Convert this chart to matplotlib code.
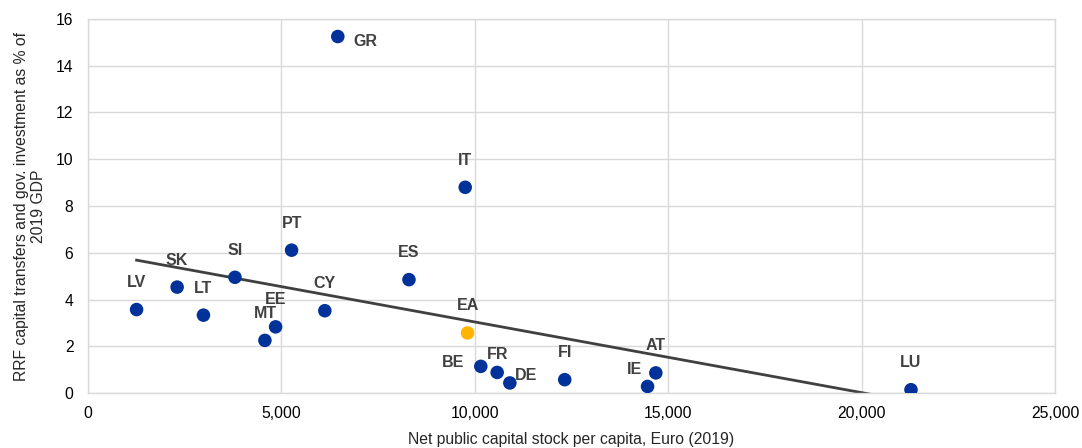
import matplotlib
matplotlib.use("Agg")
import matplotlib.pyplot as plt
import numpy as np

countries = ["LV", "SK", "LT", "SI", "MT", "EE", "PT", "CY", "GR", "ES",
             "IT", "EA", "BE", "FR", "DE", "FI", "IE", "AT", "LU"]
capital_stock = [1256, 2304, 2985, 3800, 4574, 4850, 5263, 6123, 6458, 8298,
                 9752, 9812, 10155, 10578, 10906, 12325, 14466, 14680, 21277]
rrf_share = [3.57, 4.53, 3.33, 4.95, 2.25, 2.83, 6.11, 3.52, 15.25, 4.85,
             8.80, 2.57, 1.14, 0.88, 0.43, 0.57, 0.28, 0.86, 0.14]
x_ticks = [0, 5000, 10000, 15000, 20000, 25000]
y_ticks = [0, 2, 4, 6, 8, 10, 12, 14, 16]

# label offsets in pixels (layout only)
offsets = {"GR": (28, -5), "BE": (-28, 4), "FR": (0, 18), "DE": (16, 7),
           "IE": (-13, 17)}
default_offset = (0, 27)

plt.rcParams["font.family"] = ["Liberation Sans", "DejaVu Sans"]

fig = plt.figure(figsize=(10.82, 4.48), dpi=100)
ax = fig.add_axes([88/1082, 1-393/448, (1055-88)/1082, (393-19)/448])

x = np.array(capital_stock, dtype=float)
y = np.array(rrf_share, dtype=float)
is_ea = np.array([c == "EA" for c in countries])

# trend line (linear fit over all points)
coef = np.polyfit(x, y, 1)
xs = np.linspace(x.min(), x.max(), 200)
ys = np.polyval(coef, xs)
ax.plot(xs, ys, color="#404040", lw=2, zorder=2, clip_on=True)

colors = ["#FFB400" if e else "#003299" for e in is_ea]
ax.scatter(x, y, s=95, c=colors, zorder=3, linewidths=0)

for c, xi, yi in zip(countries, x, y):
    dx, dy = offsets.get(c, default_offset)
    ax.annotate(c, (xi, yi), xytext=(dx * 0.72, dy * 0.72), textcoords="offset points",
                ha="center", va="center", fontsize=11.5, fontweight="bold",
                color="#404040", zorder=4)

ax.set_xlim(0, 25000)
ax.set_ylim(0, 16)
ax.set_xticks(x_ticks)
ax.set_yticks(y_ticks)
ax.set_xticklabels([f"{t:,}" for t in x_ticks])
ax.set_yticklabels([str(t) for t in y_ticks])
ax.tick_params(axis="both", length=0, labelsize=11.3, colors="#000000")
ax.tick_params(axis="y", pad=10.5)
ax.tick_params(axis="x", pad=9.5)
ax.grid(True, color="#D9D9D9", lw=1)
ax.set_axisbelow(True)
for s in ax.spines.values():
    s.set_color("#D9D9D9")
    s.set_linewidth(1)

ax.set_xlabel("Net public capital stock per capita, Euro (2019)", fontsize=11.3,
              color="#262626", labelpad=8)
ax.set_ylabel("RRF capital transfers and gov. investment as % of\n2019 GDP",
              fontsize=11.3, color="#262626", labelpad=7, linespacing=1.2)

fig.savefig("out.png", dpi=100)
